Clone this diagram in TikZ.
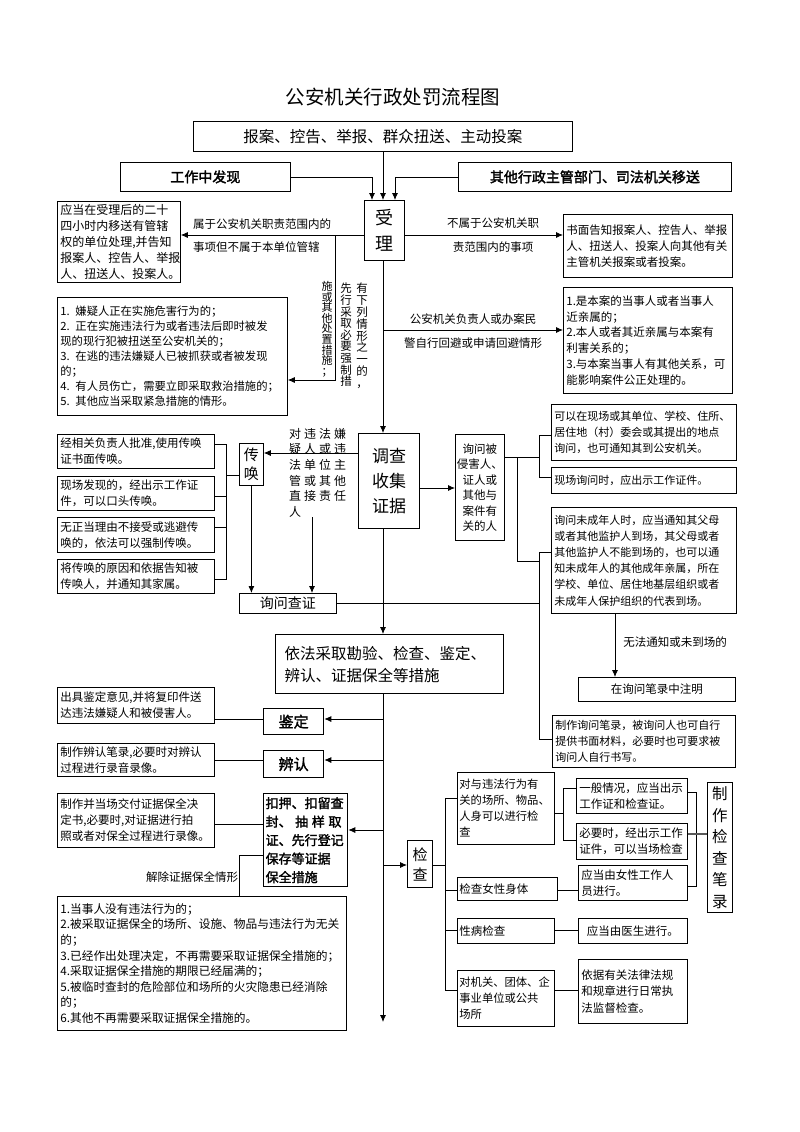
\documentclass[tikz,border=0pt]{standalone}
\usepackage{fontspec}
\setmainfont[AutoFakeBold=2]{Noto Sans CJK SC}
\usetikzlibrary{arrows.meta}
\newcommand\fsz[2]{\fontsize{#1}{#2}\selectfont}
\newcommand\jg{\hspace{3pt}}
\begin{document}
\begin{tikzpicture}[x=1pt,y=-1pt,
 box/.style={draw, line width=0.8pt, anchor=north west, inner xsep=3pt, inner ysep=1pt, align=left, font=\fsz{11.5}{15.5}},
 bbox/.style={box, line width=1.3pt},
 lbl/.style={font=\fsz{11.5}{14}, inner sep=0pt},
 arr/.style={-{Latex[length=7pt,width=6pt]}, line width=0.8pt},
 ln/.style={line width=0.8pt}]
\useasboundingbox[fill=white] (0,0) rectangle (800,1132);

% coordinates
\coordinate (xm) at (383,0);
\coordinate (xl) at (372,0);
\coordinate (xr) at (395,0);
\coordinate (y235) at (0,235);
\coordinate (y380) at (0,380);

% title and sources
\node[font=\fsz{19.5}{22}] (title) at (393,97) {公安机关行政处罚流程图};
\node[box,align=center,minimum width=379,minimum height=30,text width=373,font=\fsz{15.5}{18}] (src) at (193,121) {报案、控告、举报、群众扭送、主动投案};
\node[box,align=center,minimum width=170,minimum height=29,text width=164,font=\fsz{14}{16}\bfseries] (find) at (120,162) {工作中发现};
\node[box,align=center,minimum width=273,minimum height=29,text width=267,font=\fsz{14}{16}\bfseries] (other) at (458,162) {其他行政主管部门、司法机关移送};
\node[bbox,align=center,minimum width=40,minimum height=60,text width=34,font=\fsz{18}{26}] (shouli) at (364,200) {受\\理};

\draw[arr] (src.south -| xm) -- (shouli.north -| xm);
\draw[arr] (find.east) -| (shouli.north -| xl);
\draw[arr] (other.west) -| (shouli.north -| xr);

% left: transfer
\node[box,minimum width=123,minimum height=81,text width=117,font=\fsz{12}{16}] (transfer) at (57,201) {应当在受理后的二十\\四小时内移送有管辖\\权的单位处理,并告知\\报案人、控告人、举报\\人、扭送人、投案人。};
\draw[arr] (shouli.west |- y235) -- (transfer.east |- y235);
\node[lbl,anchor=west] (t1) at (193,224) {属于公安机关职责范围内的};
\node[lbl,anchor=west] (t2) at (193,247) {事项但不属于本单位管辖};

% right: notify
\node[box,minimum width=169,minimum height=63,text width=163,font=\fsz{11.5}{16}] (notify) at (563,214) {书面告知报案人、控告人、举报\\人、扭送人、投案人向其他有关\\主管机关报案或者投案。};
\draw[arr] (shouli.east |- y235) -- (notify.west |- y235);
\node[lbl] (t3) at (493,223) {不属于公安机关职};
\node[lbl] (t4) at (493,247) {责范围内的事项};

% urgent measures
\node[box,minimum width=230,minimum height=118,text width=224,font=\fsz{11.3}{15}] (urgent) at (57,297) {1. 嫌疑人正在实施危害行为的；\\2. 正在实施违法行为或者违法后即时被发\\现的现行犯被扭送至公安机关的；\\3. 在逃的违法嫌疑人已被抓获或者被发现\\的；\\4. 有人员伤亡，需要立即采取救治措施的；\\5. 其他应当采取紧急措施的情形。};
\coordinate (j1) at (335,235);
\draw[arr] (j1) |- (urgent.east |- y380);
\node[lbl,anchor=north,align=center,font=\fsz{11.5}{11.8}] (v3) at (362,283) {有\\下\\列\\情\\形\\之\\一\\的\\，};
\node[lbl,anchor=north,align=center,font=\fsz{11.5}{11.6}] (v2) at (346,283) {先\\行\\采\\取\\必\\要\\强\\制\\措};
\node[lbl,anchor=north,align=center,font=\fsz{11}{10.6}] (v1) at (327,281) {施\\或\\其\\他\\处\\置\\措\\施\\；};

% recusal
\node[box,minimum width=169,minimum height=106,text width=163,font=\fsz{11.5}{15.8}] (recuse) at (563,287) {1.是本案的当事人或者当事人\\近亲属的；\\2.本人或者其近亲属与本案有\\利害关系的；\\3.与本案当事人有其他关系，可\\能影响案件公正处理的。};
\coordinate (j2) at (383,330);
\draw[arr] (j2) -- (recuse.west |- j2);
\node[lbl] (t5) at (473,319) {公安机关负责人或办案民};
\node[lbl] (t6) at (473,343) {警自行回避或申请回避情形};

% investigation
\node[bbox,align=center,minimum width=61,minimum height=95,text width=55,font=\fsz{17}{25}] (diaocha) at (358,433) {调查\\收集\\证据};
\draw[arr] (shouli.south -| xm) -- (diaocha.north -| xm);

\coordinate (y488) at (0,488);
\node[box,align=center,inner xsep=1.5pt,minimum width=49,minimum height=106,text width=46,font=\fsz{11.5}{15.5}] (xunwen) at (455,434) {询问被\\侵害人、\\证人或\\其他与\\案件有\\关的人};
\draw[arr] (diaocha.east |- y488) -- (xunwen.west |- y488);

\node[box,minimum width=185,minimum height=56,text width=179,font=\fsz{11}{16}] (boxA) at (551,404) {可以在现场或其单位、学校、住所、\\居住地（村）委会或其提出的地点\\询问，也可通知其到公安机关。};
\node[box,minimum width=185,minimum height=26,text width=179,font=\fsz{11}{16}] (boxB) at (551,467) {现场询问时，应出示工作证件。};
\node[box,minimum width=185,minimum height=106,text width=179,font=\fsz{11}{16.2}] (boxC) at (551,507) {询问未成年人时，应当通知其父母\\或者其他监护人到场，其父母或者\\其他监护人不能到场的，也可以通\\知未成年人的其他成年亲属，所在\\学校、单位、居住地基层组织或者\\未成年人保护组织的代表到场。};
\node[box,minimum width=183,minimum height=52,text width=177,font=\fsz{11}{16}] (boxD) at (552,715) {制作询问笔录，被询问人也可自行\\提供书面材料，必要时也可要求被\\询问人自行书写。};
\node[box,align=center,minimum width=157,minimum height=24,text width=151,font=\fsz{11.5}{14}] (note) at (578,677) {在询问笔录中注明};

\coordinate (q1) at (539,457);
\coordinate (q2) at (517,457);
\coordinate (q3) at (539,552);
\draw[ln] (xunwen.east |- q1) -- (q1);
\draw[ln] (boxA.west |- 0,435) -- (539,435) -- (539,477) -- (boxB.west |- 0,477);
\draw[ln] (q2) |- (539,561);
\draw[ln] (boxC.west |- q3) -- (q3) |- (boxD.west |- 0,739);
\coordinate (xn) at (615,0);
\draw[arr] (boxC.south -| xn) -- (note.north -| xn);
\node[lbl] (t7) at (675,642) {无法通知或未到场的};

% summons
\node[box,align=center,inner xsep=1pt,minimum width=24,minimum height=42,text width=22,font=\fsz{15}{19}] (chuanhuan) at (239,443) {传\\唤};
\node[box,align=center,minimum width=97,minimum height=20,text width=91,font=\fsz{14}{16}] (xunzheng) at (239,593) {询问查证};
\coordinate (y453) at (0,453);
\draw[arr] (diaocha.west |- y453) -- (chuanhuan.east |- y453);
\draw[arr] (chuanhuan.south) -- (xunzheng.north -| chuanhuan.south);
\node[lbl,anchor=north west,align=left,font=\fsz{12}{15.6}] (dwf) at (289,428) {对\jg 违\jg 法\jg 嫌\\疑\jg 人\jg 或\jg 违\\法\jg 单\jg 位\jg 主\\管\jg 或\jg 其\jg 他\\直\jg 接\jg 责\jg 任\\人};
\coordinate (x312) at (312,0);
\draw[arr] (dwf.south -| x312) -- (xunzheng.north -| x312);
\draw[ln] (xunzheng.east) -- (xunzheng.east -| q1);

\node[box,minimum width=157,minimum height=34,text width=151,font=\fsz{11.5}{16}] (L1) at (57,434) {经相关负责人批准,使用传唤\\证书面传唤。};
\node[box,minimum width=157,minimum height=34,text width=151,font=\fsz{11.5}{16}] (L2) at (57,476) {现场发现的，经出示工作证\\件，可以口头传唤。};
\node[box,minimum width=157,minimum height=35,text width=151,font=\fsz{11.5}{16}] (L3) at (57,517) {无正当理由不接受或逃避传\\唤的，依法可以强制传唤。};
\node[box,minimum width=157,minimum height=34,text width=151,font=\fsz{11.5}{16}] (L4) at (57,559) {将传唤的原因和依据告知被\\传唤人，并通知其家属。};
\draw[ln] (L1.east |- 0,444) -- (226,444) -- (226,579) -- (L4.east |- 0,579);
\draw[ln] (L2.east |- 0,496) -- (226,496);
\draw[ln] (L3.east |- 0,527) -- (226,527);
\draw[ln] (226,475) -- (chuanhuan.west |- 0,475);

% measures
\node[bbox,inner xsep=9pt,minimum width=228,minimum height=59,text width=210,font=\fsz{15.5}{22}] (yifa) at (275,634) {依法采取勘验、检查、鉴定、\\辨认、证据保全等措施};
\draw[arr] (diaocha.south -| xm) -- (yifa.north -| xm);
\coordinate (end) at (383,1022);
\draw[arr] (yifa.south -| xm) -- (end);

\node[box,minimum width=157,minimum height=36,text width=151,font=\fsz{11.5}{16}] (jdtxt) at (57,687) {出具鉴定意见,并将复印件送\\达违法嫌疑人和被侵害人。};
\node[bbox,align=center,minimum width=60,minimum height=26,text width=54,font=\fsz{15}{18}\bfseries] (jianding) at (263,708) {鉴定};
\draw[ln] (jdtxt.east |- 0,719) -- (jianding.west |- 0,719);
\draw[arr] (xm |- 0,719) -- (jianding.east |- 0,719);

\node[box,minimum width=157,minimum height=33,text width=151,font=\fsz{11.5}{16}] (brtxt) at (57,743) {制作辨认笔录,必要时对辨认\\过程进行录音录像。};
\node[bbox,align=center,minimum width=60,minimum height=27,text width=54,font=\fsz{15}{18}\bfseries] (bianren) at (263,750) {辨认};
\draw[ln] (brtxt.east |- 0,760) -- (bianren.west |- 0,760);
\draw[arr] (xm |- 0,760) -- (bianren.east |- 0,760);

\node[box,minimum width=157,minimum height=54,text width=151,font=\fsz{11.5}{16}] (bqtxt) at (57,793) {制作并当场交付证据保全决\\定书,必要时,对证据进行拍\\照或者对保全过程进行录像。};
\node[bbox,inner xsep=2pt,minimum width=84,minimum height=93,text width=80,font=\fsz{13}{18.5}\bfseries] (kouya) at (263,793) {扣押、扣留查\\封、\;抽\;样\;取\\证、先行登记\\保存等证据\\保全措施};
\draw[ln] (bqtxt.east |- 0,824) -- (kouya.west |- 0,824);
\draw[arr] (xm |- 0,830) -- (kouya.east |- 0,830);

\node[box,minimum width=289,minimum height=134,text width=283,font=\fsz{11.7}{15.6}] (release) at (57,896) {1.当事人没有违法行为的；\\2.被采取证据保全的场所、设施、物品与违法行为无关\\的；\\3.已经作出处理决定，不再需要采取证据保全措施的；\\4.采取证据保全措施的期限已经届满的；\\5.被临时查封的危险部位和场所的火灾隐患已经消除\\的；\\6.其他不再需要采取证据保全措施的。};
\coordinate (xk) at (239,0);
\draw[ln] (kouya.west |- 0,855) -| (release.north -| xk);
\node[lbl] (t8) at (192,877) {解除证据保全情形};

% inspection
\node[bbox,align=center,inner xsep=1pt,minimum width=25,minimum height=47,text width=23,font=\fsz{15}{20}] (jiancha) at (407,840) {检\\查};
\draw[arr] (xm |- 0,865) -- (jiancha.west |- 0,865);
\draw[ln] (jiancha.east |- 0,865) -- (445,865);
\draw[ln] (445,798) -- (445,990);

\node[box,inner xsep=2pt,minimum width=97,minimum height=72,text width=93,font=\fsz{11.3}{16}] (K1) at (457,772) {对与违法行为有\\关的场所、物品、\\人身可以进行检\\查};
\node[box,inner xsep=2pt,minimum width=100,minimum height=23,text width=96,font=\fsz{11.5}{15}] (K2) at (457,877) {检查女性身体};
\node[box,inner xsep=2pt,minimum width=97,minimum height=25,text width=93,font=\fsz{11.5}{15}] (K3) at (457,918) {性病检查};
\node[box,inner xsep=2pt,minimum width=97,minimum height=56,text width=93,font=\fsz{11.3}{16}] (K4) at (457,970) {对机关、团体、企\\事业单位或公共\\场所};
\draw[ln] (445,798) -- (K1.west |- 0,798);
\draw[ln] (445,890) -- (K2.west |- 0,890);
\draw[ln] (445,930) -- (K3.west |- 0,930);
\draw[ln] (445,990) -- (K4.west |- 0,990);

\node[box,minimum width=111,minimum height=35,text width=105,font=\fsz{11.5}{16}] (K1a) at (576,778) {一般情况，应当出示\\工作证和检查证。};
\node[box,minimum width=111,minimum height=36,text width=105,font=\fsz{11.5}{16}] (K1b) at (576,823) {必要时，经出示工作\\证件，可以当场检查};
\node[box,minimum width=109,minimum height=35,text width=103,font=\fsz{11.5}{16}] (K2a) at (578,865) {应当由女性工作人\\员进行。};
\node[box,align=center,minimum width=109,minimum height=25,text width=103,font=\fsz{11.5}{15}] (K3a) at (578,918) {应当由医生进行。};
\node[box,minimum width=109,minimum height=64,text width=103,font=\fsz{11.5}{16.5}] (K4a) at (578,959) {依据有关法律法规\\和规章进行日常执\\法监督检查。};
\draw[ln] (K1.east |- 0,813) -- (563,813);
\draw[ln] (K1a.west |- 0,788) -- (563,788) -- (563,840) -- (K1b.west |- 0,840);
\draw[ln] (K2.east |- 0,890) -- (K2a.west |- 0,890);
\draw[ln] (K3.east |- 0,930) -- (K3a.west |- 0,930);
\draw[ln] (K4.east |- 0,990) -- (K4a.west |- 0,990);

\node[box,align=center,inner xsep=1pt,minimum width=25,minimum height=130,text width=23,font=\fsz{15.5}{21.5}] (bilu) at (707,782) {制\\作\\检\\查\\笔\\录};
\draw[ln] (K1a.east |- 0,792) -- (696,792) -- (696,886) -- (K2a.east |- 0,886);
\draw[line width=1.8pt, black!65] (K1b.east |- 0,834) -- (bilu.west |- 0,834);
\end{tikzpicture}
\end{document}
